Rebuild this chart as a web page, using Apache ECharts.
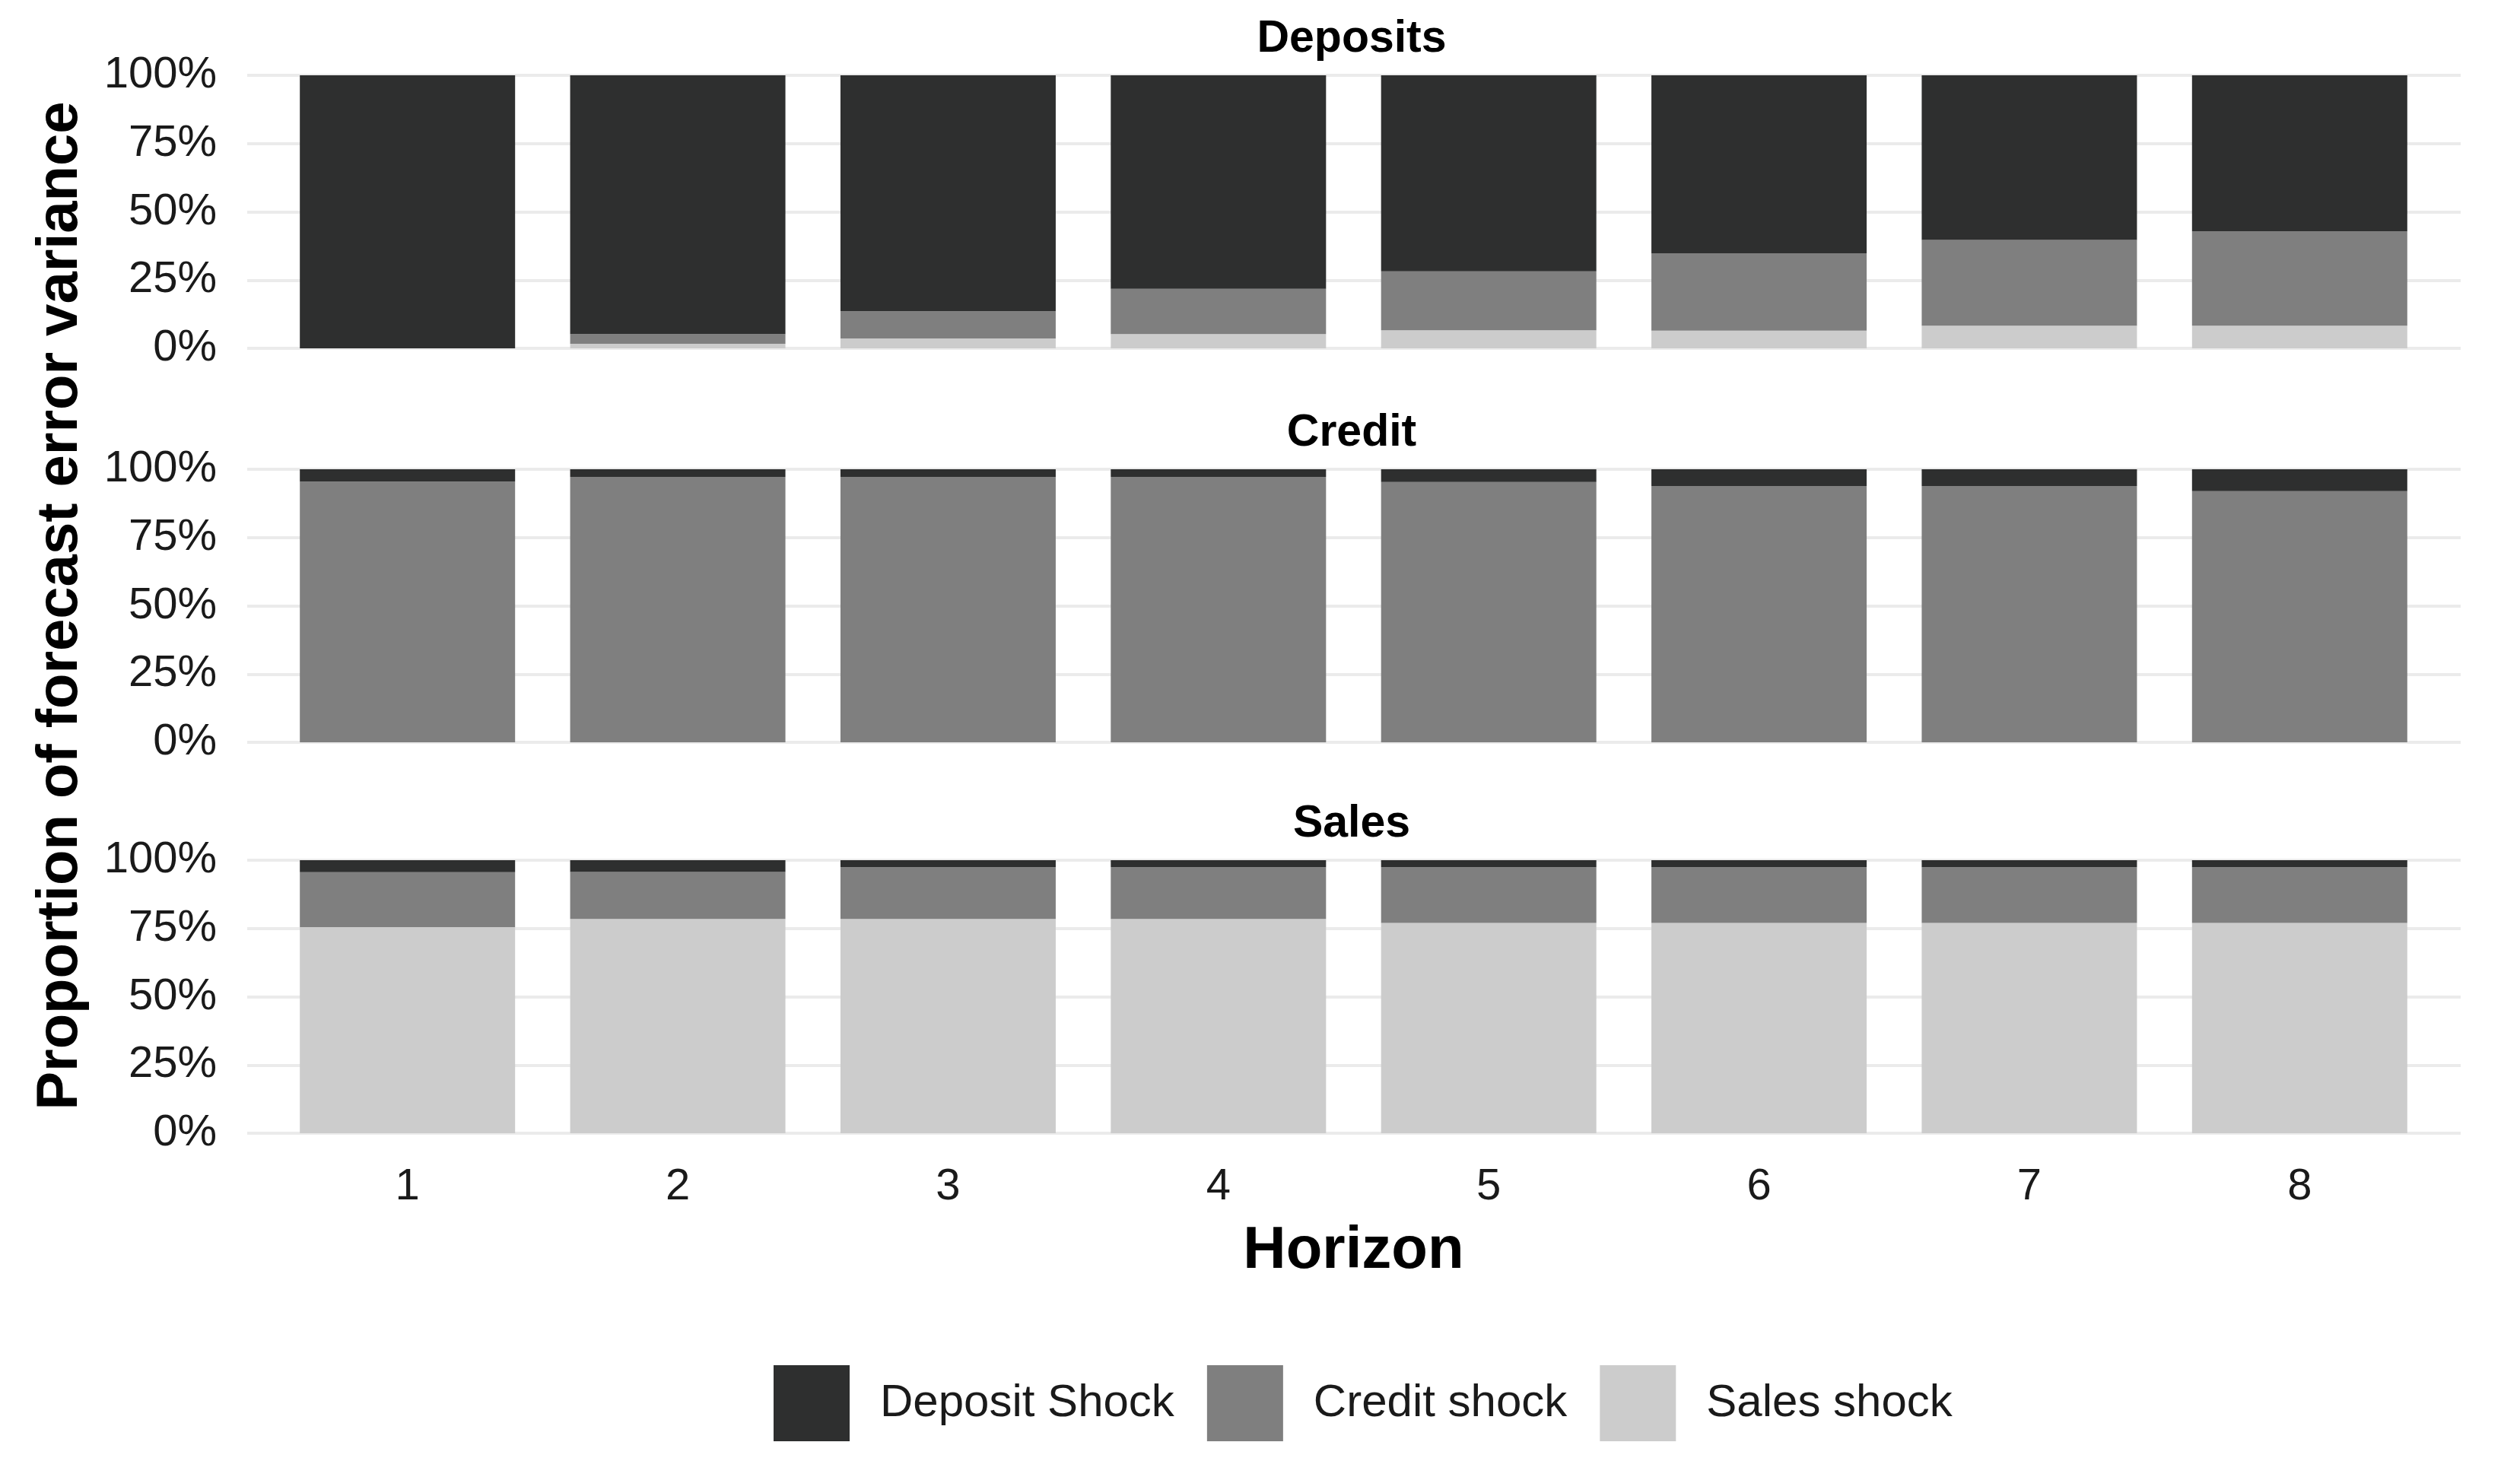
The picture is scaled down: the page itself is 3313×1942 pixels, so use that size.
<!DOCTYPE html>
<html>
<head>
<meta charset="utf-8">
<title>Forecast error variance decomposition</title>
<script src="https://cdn.jsdelivr.net/npm/echarts@6/dist/echarts.min.js"></script>
<style>
  html, body { margin: 0; padding: 0; background: #fff; }
  #chart { width: 3313px; height: 1942px; }
</style>
</head>
<body>
<div id="chart"></div>
<script>
// horizons 1..8
const horizons = ['1', '2', '3', '4', '5', '6', '7', '8'];
const panels = ['Deposits', 'Credit', 'Sales'];
const shocks = ['Deposit Shock', 'Credit shock', 'Sales shock'];

// shares in %, one array per panel and shock
const depositsDeposit = [100, 94.8, 86.4, 78.2, 71.8, 65.2, 60.3, 57.2];
const depositsCredit  = [0, 3.5, 10, 16.6, 21.6, 28.3, 31.4, 34.5];
const depositsSales   = [0, 1.7, 3.6, 5.2, 6.6, 6.5, 8.3, 8.3];

const creditDeposit = [4.5, 2.8, 2.8, 2.8, 4.7, 6.1, 6.1, 8.0];
const creditCredit  = [95.5, 97.2, 97.2, 97.2, 95.3, 93.9, 93.9, 92.0];
const creditSales   = [0, 0, 0, 0, 0, 0, 0, 0];

const salesDeposit = [4.4, 4.3, 2.6, 2.6, 2.6, 2.6, 2.6, 2.6];
const salesCredit  = [20.1, 17.2, 18.9, 18.9, 20.4, 20.4, 20.4, 20.4];
const salesSales   = [75.5, 78.5, 78.5, 78.5, 77.0, 77.0, 77.0, 77.0];

const panelData = [
  [depositsDeposit, depositsCredit, depositsSales],
  [creditDeposit, creditCredit, creditSales],
  [salesDeposit, salesCredit, salesSales]
];

const colors = ['#2e2f2f', '#7f7f7f', '#cccccc'];
const font = 'Liberation Sans, Arial, sans-serif';

const gridTops = [99, 617, 1131];
const gridH = 359;

const grids = [], xAxes = [], yAxes = [], series = [], titles = [];

panels.forEach((p, i) => {
  const last = i === panels.length - 1;
  // background grid: carries the y labels and the full-width gridlines
  const bg = grids.length;
  grids.push({ left: 325, right: 78, top: gridTops[i], height: gridH });
  xAxes.push({ type: 'value', gridIndex: bg, min: 0, max: 1, show: false });
  yAxes.push({
    type: 'value', gridIndex: bg, min: 0, max: 100, interval: 25,
    axisLine: { show: false }, axisTick: { show: false },
    axisLabel: { formatter: '{value}%', fontSize: 58, color: '#1a1a1a', margin: 40, fontFamily: font },
    splitLine: { lineStyle: { color: '#ebebeb', width: 4 } },
    name: i === 1 ? 'Proportion of forecast error variance' : '',
    nameLocation: 'middle', nameGap: 207,
    nameTextStyle: { fontSize: 76, fontWeight: 'bold', color: '#000', fontFamily: font }
  });
  // bar grid: category bands for the horizons
  const g = grids.length;
  grids.push({ left: 358, right: 112, top: gridTops[i], height: gridH });
  xAxes.push({
    type: 'category', gridIndex: g, data: horizons,
    axisLine: { show: false }, axisTick: { show: false }, splitLine: { show: false },
    axisLabel: { show: last, margin: 42, fontSize: 58, color: '#1a1a1a', fontFamily: font },
    name: last ? 'Horizon' : '',
    nameLocation: 'middle', nameGap: 116,
    nameTextStyle: { fontSize: 78, fontWeight: 'bold', color: '#000', fontFamily: font }
  });
  yAxes.push({ type: 'value', gridIndex: g, min: 0, max: 100, show: false, splitLine: { show: false } });
  // stacking order bottom to top: sales, credit, deposit
  [2, 1, 0].forEach(k => {
    series.push({
      type: 'bar', name: shocks[k], xAxisIndex: g, yAxisIndex: g,
      stack: 'panel' + i, barWidth: 283,
      itemStyle: { color: colors[k] },
      data: panelData[i][k]
    });
  });
  titles.push({
    text: p, left: 1772, textAlign: 'center', top: gridTops[i] - 82,
    textStyle: { fontSize: 59, fontWeight: 'bold', color: '#000', fontFamily: font }
  });
});

const chart = echarts.init(document.getElementById('chart'));
chart.setOption({
  animation: false,
  backgroundColor: '#fff',
  title: titles,
  legend: {
    data: shocks, left: 1012, top: 1790,
    itemWidth: 100, itemHeight: 100, itemGap: 43, icon: 'rect',
    textStyle: { fontSize: 60, color: '#1a1a1a', fontFamily: font, padding: [12, 0, 0, 35] }
  },
  grid: grids,
  xAxis: xAxes,
  yAxis: yAxes,
  series: series
});
</script>
</body>
</html>
